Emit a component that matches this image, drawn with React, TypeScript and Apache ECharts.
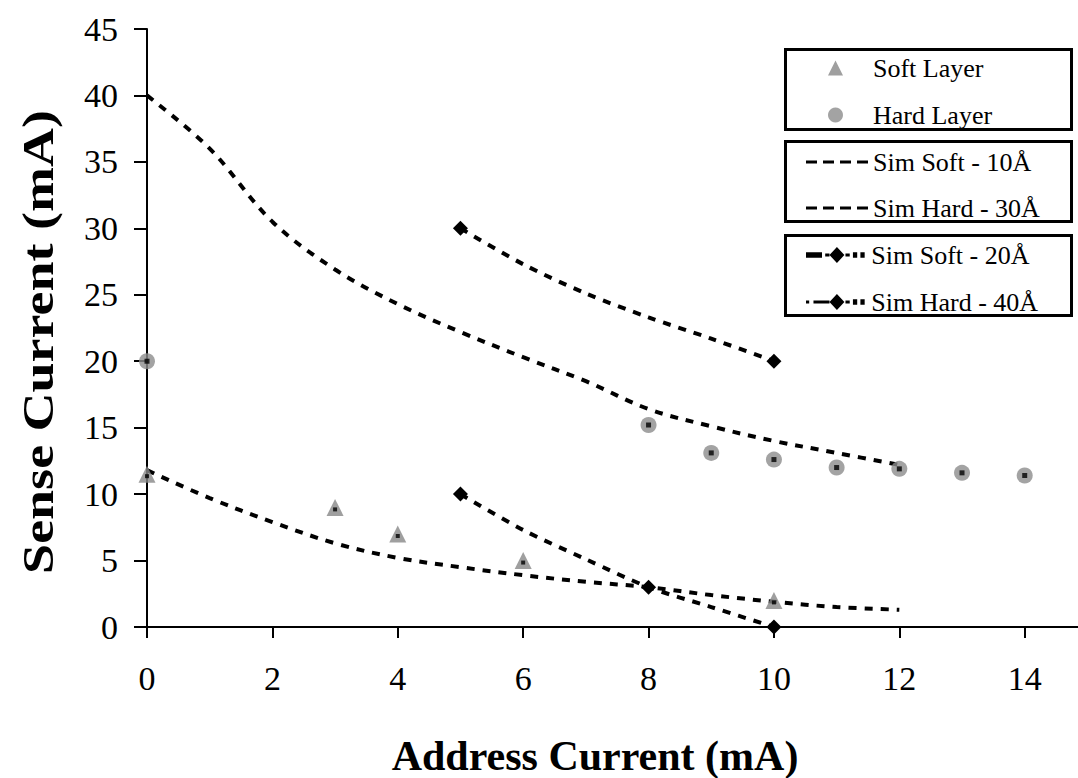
import React, { useEffect, useRef } from "react";
import * as echarts from "echarts";

const xTicks = [0, 2, 4, 6, 8, 10, 12, 14];
const yTicks = [0, 5, 10, 15, 20, 25, 30, 35, 40, 45];

const softLayerX = [0, 3, 4, 6, 10];
const softLayerY = [11.5, 9, 7, 5, 2];

const hardLayerX = [0, 8, 9, 10, 11, 12, 13, 14];
const hardLayerY = [20, 15.2, 13.1, 12.6, 12.0, 11.9, 11.6, 11.4];

const simSoft10X = [0, 1, 2, 3, 4, 5, 6, 7, 8, 9, 10, 11, 12];
const simSoft10Y = [11.8, 9.7, 7.9, 6.3, 5.2, 4.5, 3.9, 3.4, 3.0, 2.4, 1.9, 1.5, 1.3];

const simHard30X = [0, 1, 2, 3, 4, 5, 6, 7, 8, 9, 10, 11, 12];
const simHard30Y = [40, 36, 30.5, 26.9, 24.3, 22.2, 20.3, 18.5, 16.4, 15.1, 14.0, 13.1, 12.2];

const simSoft20X = [5, 6, 7, 8, 9, 10];
const simSoft20Y = [10, 7.3, 5.1, 3.0, 1.5, 0];
const simSoft20Marker = [true, false, false, true, false, true];

const simHard40X = [5, 6, 7, 8, 9, 10];
const simHard40Y = [30, 27.3, 25.1, 23.3, 21.7, 20];
const simHard40Marker = [true, false, false, false, false, true];

const FONT = "'Liberation Serif', 'Times New Roman', serif";

const ICON_DASHES = "path://M0,0h11v3h-11z M17,0h11v3h-11z M34,0h11v3h-11z M51,0h11v3h-11z";
const ICON_SOFT20 =
  "path://M0,5h15v5h-15z M18,6h4v3h-4z M29,0L36,7.5L29,15L22,7.5z M37,6h4v3h-4z M44,5h4v5h-4z M51,5h4v5h-4z";
const ICON_HARD40 =
  "path://M0,6h3v3h-3z M7,6h11v3h-11z M29,0L36,7.5L29,15L22,7.5z M18,6h4v3h-4z M37,6h4v3h-4z M44,5h4v5h-4z M51,5h4v5h-4z";

function pairs(xs: number[], ys: number[]) {
  return xs.map((x, i) => [x, ys[i]]);
}

function markedPairs(xs: number[], ys: number[], marks: boolean[]) {
  return xs.map((x, i) =>
    marks[i] ? { value: [x, ys[i]] } : { value: [x, ys[i]], symbol: "none" }
  );
}

export default function App() {
  const ref = useRef<HTMLDivElement>(null);
  useEffect(() => {
    document.body.style.margin = "0";
    const chart = echarts.init(ref.current!, undefined, { renderer: "svg" });
    const dash = [8, 8];
    const legendText = { fontFamily: FONT, fontSize: 26, color: "#000" };
    const legendBase = {
      orient: "vertical" as const,
      left: 806,
      padding: 0,
      itemWidth: 62,
      itemHeight: 16,
      textStyle: legendText,
      selectedMode: false,
      symbolKeepAspect: true,
    };
    const box = (y: number, h: number) => ({
      type: "rect",
      shape: { x: 785.5, y, width: 286, height: h },
      style: { fill: "none", stroke: "#000", lineWidth: 3 },
      z: 10,
    });
    chart.setOption({
      animation: false,
      backgroundColor: "#fff",
      grid: { left: 147, right: 0, top: 29, bottom: 151 },
      xAxis: {
        type: "value",
        min: 0,
        max: 14.85,
        interval: 2,
        splitLine: { show: false },
        axisLine: { onZero: false, lineStyle: { color: "#000", width: 2 } },
        axisTick: { length: 11, lineStyle: { color: "#000", width: 2 } },
        axisLabel: {
          fontFamily: FONT,
          fontSize: 34,
          color: "#000",
          margin: 34,
          showMaxLabel: false,
          formatter: (v: number) => (xTicks.includes(v) ? String(v) : ""),
        },
      },
      yAxis: {
        type: "value",
        min: 0,
        max: 45,
        interval: 5,
        splitLine: { show: false },
        axisLine: { show: true, lineStyle: { color: "#000", width: 2 } },
        axisTick: { show: true, length: 13, lineStyle: { color: "#000", width: 2 } },
        axisLabel: {
          fontFamily: FONT,
          fontSize: 34,
          color: "#000",
          margin: 29,
          formatter: (v: number) => (yTicks.includes(v) ? String(v) : ""),
        },
      },
      legend: [
        {
          ...legendBase,
          left: 828,
          itemWidth: 15,
          itemHeight: 15,
          top: 55,
          itemGap: 21,
          textStyle: { ...legendText, padding: [0, 0, 0, 25] },
          data: [
            { name: "Soft Layer", icon: "triangle" },
            { name: "Hard Layer", icon: "circle" },
          ],
        },
        {
          ...legendBase,
          top: 149,
          itemGap: 20,
          data: [
            { name: "Sim Soft - 10Å", icon: ICON_DASHES },
            { name: "Sim Hard - 30Å", icon: ICON_DASHES },
          ],
        },
        {
          ...legendBase,
          top: 242,
          itemGap: 21,
          data: [
            { name: "Sim Soft - 20Å", icon: ICON_SOFT20 },
            { name: "Sim Hard - 40Å", icon: ICON_HARD40 },
          ],
        },
      ],
      graphic: [
        box(49.5, 80),
        box(141.5, 80),
        box(235.5, 80),
        {
          type: "text",
          x: 595,
          y: 756,
          style: {
            text: "Address Current (mA)",
            font: `bold 42px ${FONT}`,
            fill: "#000",
            align: "center",
            verticalAlign: "middle",
          },
        },
        {
          type: "text",
          x: 38,
          y: 342,
          rotation: Math.PI / 2,
          scaleX: 1.2,
          style: {
            text: "Sense Current (mA)",
            font: `bold 45px ${FONT}`,
            fill: "#000",
            align: "center",
            verticalAlign: "middle",
          },
        },
      ],
      series: [
        {
          name: "Sim Soft - 10Å",
          type: "line",
          data: pairs(simSoft10X, simSoft10Y),
          smooth: 0.35,
          symbol: "none",
          lineStyle: { color: "#000", width: 4, type: dash },
          itemStyle: { color: "#000" },
          z: 3,
        },
        {
          name: "Sim Hard - 30Å",
          type: "line",
          data: pairs(simHard30X, simHard30Y),
          smooth: 0.35,
          symbol: "none",
          lineStyle: { color: "#000", width: 4, type: dash },
          itemStyle: { color: "#000" },
          z: 3,
        },
        {
          name: "Sim Soft - 20Å",
          type: "line",
          data: markedPairs(simSoft20X, simSoft20Y, simSoft20Marker),
          smooth: 0.3,
          symbol: "diamond",
          symbolSize: 15,
          lineStyle: { color: "#000", width: 4, type: dash },
          itemStyle: { color: "#000" },
          z: 3,
        },
        {
          name: "Sim Hard - 40Å",
          type: "line",
          data: markedPairs(simHard40X, simHard40Y, simHard40Marker),
          smooth: 0.3,
          symbol: "diamond",
          symbolSize: 15,
          lineStyle: { color: "#000", width: 4, type: dash },
          itemStyle: { color: "#000" },
          z: 3,
        },
        {
          name: "Soft Layer",
          type: "scatter",
          data: pairs(softLayerX, softLayerY),
          symbol: "triangle",
          symbolSize: 17,
          itemStyle: { color: "#878787" },
          z: 4,
        },
        {
          name: "Hard Layer",
          type: "scatter",
          data: pairs(hardLayerX, hardLayerY),
          symbol: "circle",
          symbolSize: 16,
          itemStyle: { color: "#8c8c8c" },
          z: 4,
        },
        {
          name: "soft-center",
          type: "scatter",
          data: pairs(softLayerX, softLayerY),
          symbol: "rect",
          symbolSize: 4,
          symbolOffset: [0, 2],
          itemStyle: { color: "#000" },
          z: 5,
        },
        {
          name: "hard-center",
          type: "scatter",
          data: pairs(hardLayerX, hardLayerY),
          symbol: "rect",
          symbolSize: 5,
          itemStyle: { color: "#000" },
          z: 5,
        },
      ],
    });
    return () => chart.dispose();
  }, []);
  return <div ref={ref} style={{ width: 1078, height: 778 }} />;
}
